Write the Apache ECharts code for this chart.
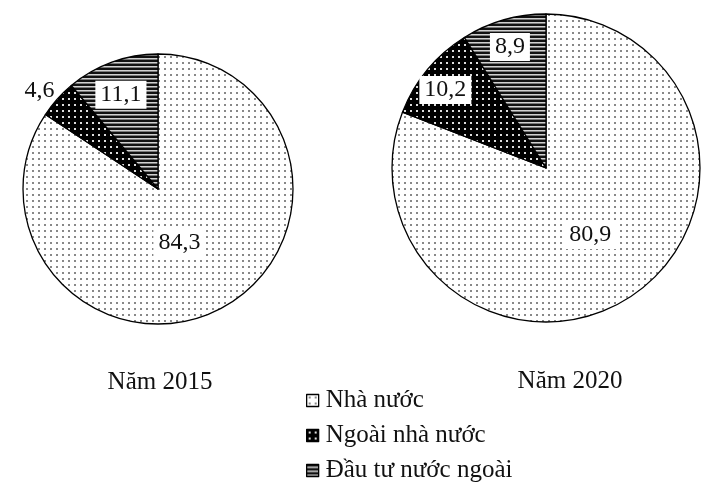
<!DOCTYPE html>
<html>
<head>
<meta charset="utf-8">
<script src="https://cdn.jsdelivr.net/npm/echarts@6/dist/echarts.min.js"></script>
<style>html,body{margin:0;padding:0;background:#fff;}#chart{width:720px;height:493px;}</style>
</head>
<body>
<div id="chart"></div>
<script>
const categories = ['Nhà nước', 'Ngoài nhà nước', 'Đầu tư nước ngoài'];
const values2015 = [84.3, 4.6, 11.1];
const values2020 = [80.9, 10.2, 8.9];
const years = ['Năm 2015', 'Năm 2020'];

function makePattern(w, h, draw) {
  const c = document.createElement('canvas');
  c.width = w; c.height = h;
  draw(c.getContext('2d'));
  return { image: c, repeat: 'repeat' };
}
const dotPattern = makePattern(6, 6, ctx => {
  ctx.fillStyle = '#fff'; ctx.fillRect(0, 0, 6, 6);
  ctx.fillStyle = '#888'; ctx.fillRect(2, 2, 2, 2);
});
const blackDotPattern = makePattern(6, 6, ctx => {
  ctx.fillStyle = '#000'; ctx.fillRect(0, 0, 6, 6);
  ctx.fillStyle = '#ddd'; ctx.fillRect(2, 2, 2, 2);
});
const stripePattern = makePattern(4, 4, ctx => {
  const rows = ['#111', '#111', '#d0d0d0', '#7a7a7a'];
  rows.forEach((col, i) => { ctx.fillStyle = col; ctx.fillRect(0, i, 4, 1); });
});
const patterns = [dotPattern, blackDotPattern, stripePattern];

const FONT = '"Liberation Serif", "Times New Roman", serif';

// label nudges (dx, dy) from the default inside position
const nudges = [
  [[-12, -8], [-66, -51], [-13, -28]],
  [[-1, 1], [-39, -27], [-14, -44]]
];

function buildData(vals) {
  return vals.map((v, i) => ({
    name: categories[i],
    value: v,
    itemStyle: { color: patterns[i] },
    label: i === 1 && vals === values2015 ? { backgroundColor: 'transparent' } : {}
  }));
}

function pieSeries(vals, center, radius, idx) {
  return {
    type: 'pie',
    center: center,
    radius: radius,
    startAngle: 90,
    clockwise: true,
    avoidLabelOverlap: false,
    silent: true,
    itemStyle: { borderColor: '#000', borderWidth: 1.3 },
    label: {
      show: true,
      position: 'inside',
      formatter: p => String(p.value).replace('.', ','),
      fontFamily: FONT,
      fontSize: 24,
      color: '#111',
      backgroundColor: '#fff',
      padding: [3, 5, 1, 5]
    },
    labelLine: { show: false },
    labelLayout: p => {
      const n = nudges[idx][p.dataIndex];
      return { dx: n[0], dy: n[1] };
    },
    data: buildData(vals)
  };
}

const chart = echarts.init(document.getElementById('chart'), null, { renderer: 'canvas' });
chart.setOption({
  animation: false,
  backgroundColor: '#fff',
  title: [
    { text: years[0], left: 160, top: 370, textAlign: 'center', padding: 0,
      textStyle: { fontFamily: FONT, fontSize: 25, fontWeight: 'normal', color: '#111' } },
    { text: years[1], left: 570, top: 369, textAlign: 'center', padding: 0,
      textStyle: { fontFamily: FONT, fontSize: 25, fontWeight: 'normal', color: '#111' } }
  ],
  legend: {
    orient: 'vertical',
    left: 306,
    top: 388,
    padding: 0,
    itemGap: 10,
    itemWidth: 12,
    itemHeight: 12,
    icon: 'rect',
    selectedMode: false,
    itemStyle: { borderColor: '#000', borderWidth: 1.3 },
    textStyle: { fontFamily: FONT, fontSize: 25, color: '#111', padding: [0, 0, 0, 2], lineHeight: 24 },
    data: categories
  },
  series: [
    pieSeries(values2015, [158, 189], 135, 0),
    pieSeries(values2020, [546, 168], 154, 1)
  ]
});
</script>
</body>
</html>
